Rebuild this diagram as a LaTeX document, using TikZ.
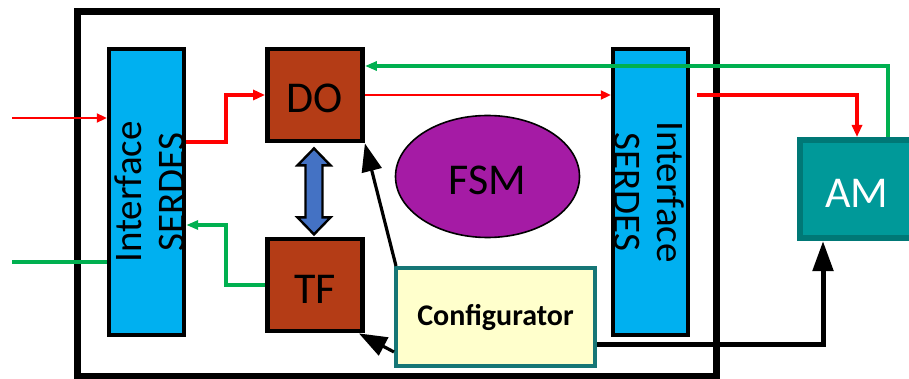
\documentclass[tikz,border=0pt]{standalone}
\usepackage{fontspec}
\setmainfont{Carlito}
\usetikzlibrary{arrows.meta,calc,shapes.geometric}

\definecolor{serdescyan}{RGB}{0,176,240}
\definecolor{blockbrown}{RGB}{180,60,22}
\definecolor{fsmpurple}{RGB}{165,27,165}
\definecolor{linkblue}{RGB}{68,114,196}
\definecolor{cfgyellow}{RGB}{255,255,204}
\definecolor{cfgteal}{RGB}{22,118,118}
\definecolor{amteal}{RGB}{0,153,153}
\definecolor{amborder}{RGB}{0,120,118}
\definecolor{sigred}{RGB}{255,0,0}
\definecolor{siggreen}{RGB}{0,176,80}

\begin{document}
\begin{tikzpicture}[x=0.5pt, y=-0.5pt,
        serdes/.style={draw=black, line width=2.2pt, fill=serdescyan,
            minimum width=37.5pt, minimum height=143pt, inner sep=0pt},
        serdeslabel/.style={font=\fontsize{19.5}{21.5}\selectfont, align=center, inner sep=0pt},
        block/.style={draw=black, line width=2.4pt, fill=blockbrown,
            minimum width=47.5pt, minimum height=46pt, inner sep=0pt,
            font=\fontsize{22}{26}\selectfont, text height=18pt, text depth=0pt},
        fsm/.style={ellipse, draw=black, line width=0.8pt, fill=fsmpurple,
            minimum width=92pt, minimum height=61pt, inner sep=0pt,
            font=\fontsize{22}{26}\selectfont, text height=18pt, text depth=0pt},
        cfg/.style={draw=cfgteal, line width=2pt, fill=cfgyellow,
            minimum width=99.5pt, minimum height=49pt, inner sep=0pt,
            font=\fontsize{15}{18}\selectfont\bfseries},
        am/.style={draw=amborder, line width=3pt, fill=amteal, text=white,
            minimum width=57pt, minimum height=49pt, inner sep=0pt,
            font=\fontsize{22}{26}\selectfont, text height=18pt, text depth=0pt},
        linkarrow/.style={draw=black, line width=1.2pt, fill=linkblue, line join=miter},
        redthin/.style={draw=sigred, line width=1pt, -{Triangle[length=5pt,width=4.5pt]}},
        redthick/.style={draw=sigred, line width=2pt, -{Triangle[length=6pt,width=5pt]}},
        greenln/.style={draw=siggreen, line width=1.6pt},
        greenarrow/.style={greenln, -{Triangle[length=6pt,width=4.5pt]}},
        blkthick/.style={draw=black, line width=2.5pt, -{Triangle[length=15pt,width=10pt]}},
        blkmid/.style={draw=black, line width=1.6pt, -{Triangle[length=14pt,width=10pt]}}
    ]
        \useasboundingbox (0,0) rectangle (909,379);

        % Board frame
        \draw[line width=3.5pt] (77,12) rectangle (716,376);

        % Blocks
        \node[serdes] (serL) at (146.5,192) {};
        \node[serdes] (serR) at (650.5,192) {};
        \node[serdeslabel, rotate=90] (serLtxt) at ([xshift=1.5pt]serL.center) {Interface\\SERDES};
        \node[serdeslabel, rotate=-90] (serRtxt) at ([xshift=-0.5pt]serR.center) {Interface\\SERDES};
        \node[block] (DO) at (315,95) {DO};
        \node[block] (TF) at (315,285) {TF};
        \node[fsm] (FSM) at (487.5,176.5) {FSM};
        \node[cfg] (cfg) at (495.5,317) {Configurator};
        \node[am] (AM) at (857,189) {AM};

        % DO <-> TF link (block double arrow)
        \coordinate (linktop) at ($(DO.south)+(-1,5)$);
        \draw[linkarrow] (linktop) -- ++(16.5,17) -- ++(-8,0) -- ++(0,52)
            -- ++(8,0) -- ++(-16.5,17) -- ++(-16.5,-17) -- ++(8,0)
            -- ++(0,-52) -- ++(-8,0) -- cycle;

        % Inputs
        \coordinate (inR) at (12,118);
        \coordinate (inG) at (12,262);
        \draw[redthin] (inR) -- (inR -| serL.west);
        \draw[greenln] (inG) -- (inG -| serL.west);

        % Data paths
        \draw[redthick] (serL.east |- 0,142) -| (226,95) -- (DO.west);
        \draw[greenarrow] (TF.west) -| (226,225) -- (serL.east |- 0,225);
        \draw[redthin] (DO.east) -- (DO.east -| serR.west);
        \draw[redthick] ($(serR.east |- DO.east)+(7,0)$) -| (AM.north);
        \draw[greenarrow] ([xshift=15.5pt]AM.north) |- (DO.east |- 0,66);

        % Configuration
        \draw[blkmid] ([xshift=1pt]cfg.north west) -- (DO.south east);
        \draw[blkmid] ([yshift=-17.5pt]cfg.west) -- ([xshift=-3pt]TF.south east);
        \draw[blkthick] ([yshift=-13.5pt]cfg.east) -| ([xshift=-17pt]AM.south);
    \end{tikzpicture}
\end{document}
